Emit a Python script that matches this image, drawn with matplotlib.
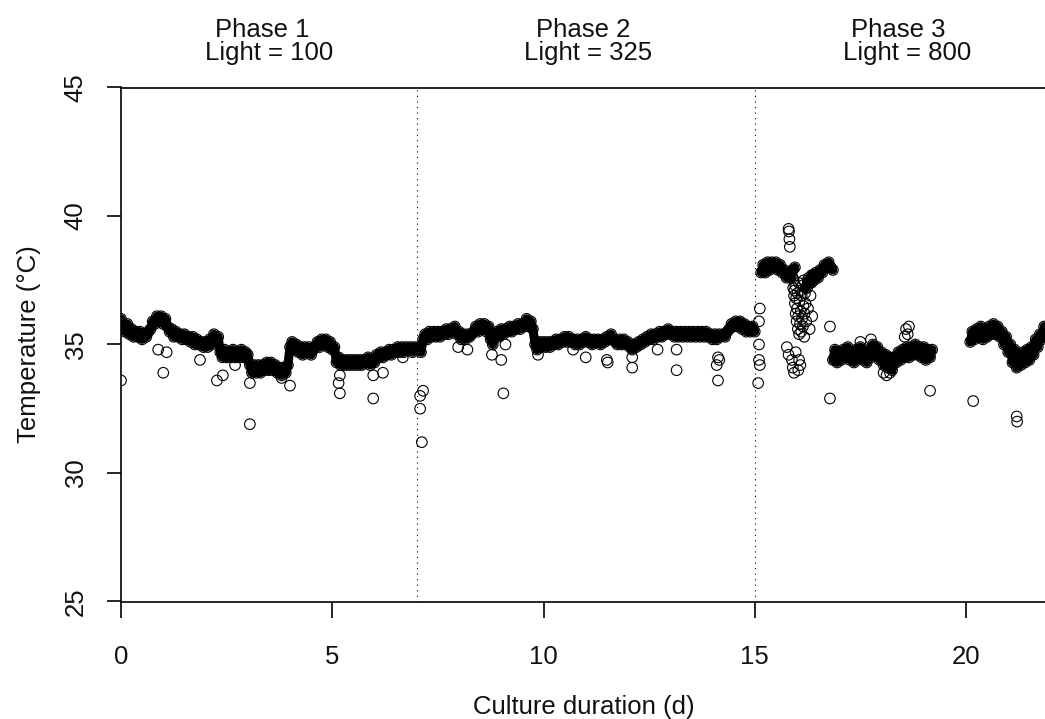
import matplotlib
matplotlib.use("Agg")
import matplotlib.pyplot as plt

# --- data (day, temperature in degC) ----------------------------------------
# continuous logger runs (dense band in the figure)
phase1_day = [
    0.00, 0.05, 0.10, 0.15, 0.20, 0.25, 0.30, 0.35, 0.40, 0.45, 0.50, 0.55, 0.60, 0.65, 0.70, 0.75, 0.80, 0.85, 0.90, 0.95,
    1.00, 1.05, 1.10, 1.15, 1.20, 1.25, 1.30, 1.35, 1.40, 1.45, 1.50, 1.55, 1.60, 1.65, 1.70, 1.75, 1.80, 1.85, 1.90, 1.95,
    2.00, 2.05, 2.10, 2.15, 2.20, 2.25, 2.30, 2.35, 2.40, 2.45, 2.50, 2.55, 2.60, 2.65, 2.70, 2.75, 2.80, 2.85, 2.90, 2.95,
    3.00, 3.05, 3.10, 3.15, 3.20, 3.25, 3.30, 3.35, 3.40, 3.45, 3.50, 3.55, 3.60, 3.65, 3.70, 3.75, 3.80, 3.85, 3.90, 3.95,
    4.00, 4.05, 4.10, 4.15, 4.20, 4.25, 4.30, 4.35, 4.40, 4.45, 4.50, 4.55, 4.60, 4.65, 4.70, 4.75, 4.80, 4.85, 4.90, 4.95,
    5.00, 5.05, 5.10, 5.15, 5.20, 5.25, 5.30, 5.35, 5.40, 5.45, 5.50, 5.55, 5.60, 5.65, 5.70, 5.75, 5.80, 5.85, 5.90, 5.95,
    6.00, 6.05, 6.10, 6.15, 6.20, 6.25, 6.30, 6.35, 6.40, 6.45, 6.50, 6.55, 6.60, 6.65, 6.70, 6.75, 6.80, 6.85, 6.90, 6.95,
    7.00,
]
phase1_temp = [
    36.0, 35.7, 35.5, 35.8, 35.4, 35.6, 35.3, 35.5, 35.3, 35.5, 35.2, 35.4, 35.3, 35.5, 35.6, 35.9, 35.8, 36.1, 35.9, 36.1,
    35.8, 36.0, 35.7, 35.5, 35.6, 35.3, 35.5, 35.3, 35.4, 35.2, 35.4, 35.2, 35.3, 35.1, 35.3, 35.0, 35.2, 35.0, 35.1, 34.9,
    35.1, 34.9, 35.2, 35.0, 35.4, 35.2, 35.3, 34.7, 34.5, 34.8, 34.5, 34.7, 34.5, 34.8, 34.5, 34.7, 34.5, 34.8, 34.5, 34.7,
    34.6, 34.2, 33.9, 34.2, 33.9, 34.2, 33.9, 34.2, 34.0, 34.3, 34.0, 34.3, 34.0, 34.2, 33.9, 34.1, 33.8, 34.1, 33.9, 34.2,
    34.9, 35.1, 34.8, 35.0, 34.7, 34.9, 34.6, 34.9, 34.7, 34.9, 34.6, 34.8, 34.9, 35.1, 34.9, 35.2, 35.0, 35.2, 34.9, 35.1,
    34.8, 34.9, 34.3, 34.5, 34.2, 34.4, 34.2, 34.4, 34.2, 34.4, 34.2, 34.4, 34.2, 34.4, 34.2, 34.4, 34.3, 34.5, 34.2, 34.4,
    34.3, 34.6, 34.5, 34.7, 34.5, 34.7, 34.6, 34.8, 34.6, 34.8, 34.7, 34.9, 34.7, 34.9, 34.7, 34.9, 34.8, 34.9, 34.7, 34.9,
    34.8,
]

phase2_day = [
    7.05, 7.10, 7.15, 7.20, 7.25, 7.30, 7.35, 7.40, 7.45, 7.50, 7.55, 7.60, 7.65, 7.70, 7.75, 7.80, 7.85, 7.90, 7.95, 8.00,
    8.05, 8.10, 8.15, 8.20, 8.25, 8.30, 8.35, 8.40, 8.45, 8.50, 8.55, 8.60, 8.65, 8.70, 8.75, 8.80, 8.85, 8.90, 8.95, 9.00,
    9.05, 9.10, 9.15, 9.20, 9.25, 9.30, 9.35, 9.40, 9.45, 9.50, 9.55, 9.60, 9.65, 9.70, 9.75, 9.80, 9.85, 9.90, 9.95, 10.00,
    10.05, 10.10, 10.15, 10.20, 10.25, 10.30, 10.35, 10.40, 10.45, 10.50, 10.55, 10.60, 10.65, 10.70, 10.75, 10.80, 10.85, 10.90, 10.95, 11.00,
    11.05, 11.10, 11.15, 11.20, 11.25, 11.30, 11.35, 11.40, 11.45, 11.50, 11.55, 11.60, 11.65, 11.70, 11.75, 11.80, 11.85, 11.90, 11.95, 12.00,
    12.05, 12.10, 12.15, 12.20, 12.25, 12.30, 12.35, 12.40, 12.45, 12.50, 12.55, 12.60, 12.65, 12.70, 12.75, 12.80, 12.85, 12.90, 12.95, 13.00,
    13.05, 13.10, 13.15, 13.20, 13.25, 13.30, 13.35, 13.40, 13.45, 13.50, 13.55, 13.60, 13.65, 13.70, 13.75, 13.80, 13.85, 13.90, 13.95, 14.00,
    14.05, 14.10, 14.15, 14.20, 14.25, 14.30, 14.35, 14.40, 14.45, 14.50, 14.55, 14.60, 14.65, 14.70, 14.75, 14.80, 14.85, 14.90, 14.95, 15.00,
]
phase2_temp = [
    34.9, 34.7, 35.2, 35.4, 35.2, 35.5, 35.3, 35.5, 35.3, 35.5, 35.3, 35.5, 35.4, 35.6, 35.4, 35.6, 35.5, 35.7, 35.4, 35.5,
    35.2, 35.4, 35.2, 35.4, 35.3, 35.4, 35.5, 35.7, 35.5, 35.8, 35.6, 35.8, 35.5, 35.7, 35.2, 35.0, 35.3, 35.5, 35.3, 35.6,
    35.4, 35.6, 35.5, 35.7, 35.5, 35.7, 35.6, 35.8, 35.6, 35.8, 35.7, 36.0, 35.7, 35.9, 35.6, 35.0, 34.8, 35.1, 34.9, 35.1,
    34.9, 35.1, 34.9, 35.1, 35.0, 35.2, 35.0, 35.2, 35.1, 35.3, 35.1, 35.3, 35.1, 35.2, 35.0, 35.2, 35.0, 35.2, 35.1, 35.3,
    35.1, 35.2, 35.0, 35.2, 35.1, 35.2, 35.0, 35.2, 35.1, 35.3, 35.2, 35.4, 35.2, 35.1, 35.0, 35.2, 35.0, 35.2, 35.0, 35.1,
    34.9, 34.8, 35.0, 34.9, 35.1, 35.0, 35.2, 35.1, 35.3, 35.2, 35.4, 35.2, 35.4, 35.3, 35.5, 35.3, 35.5, 35.4, 35.6, 35.4,
    35.5, 35.3, 35.5, 35.3, 35.5, 35.3, 35.5, 35.3, 35.5, 35.3, 35.5, 35.3, 35.5, 35.3, 35.5, 35.3, 35.5, 35.3, 35.4, 35.2,
    35.4, 35.2, 35.4, 35.3, 35.4, 35.3, 35.5, 35.6, 35.8, 35.7, 35.9, 35.7, 35.9, 35.6, 35.8, 35.5, 35.7, 35.5, 35.7, 35.5,
]

p3_plateau_day = [15.15, 15.20, 15.25, 15.30, 15.35, 15.40, 15.45, 15.50, 15.55, 15.60,
                  15.65, 15.70, 15.75, 15.80, 15.85, 15.90, 15.95]
p3_plateau_temp = [37.8, 38.1, 37.8, 38.2, 37.9, 38.2, 38.0, 38.2, 37.9, 38.1,
                   37.8, 37.9, 37.6, 37.8, 37.6, 37.9, 38.0]

p3_arm_day = [16.20, 16.25, 16.30, 16.35, 16.40, 16.45, 16.50, 16.55, 16.60,
              16.65, 16.70, 16.75, 16.80, 16.85]
p3_arm_temp = [37.2, 37.5, 37.4, 37.7, 37.5, 37.8, 37.6, 37.9, 37.8,
               38.1, 38.0, 38.2, 38.0, 37.9]

p3_plateau2_day = [
    16.85, 16.90, 16.95, 17.00, 17.05, 17.10, 17.15, 17.20, 17.25, 17.30, 17.35, 17.40, 17.45, 17.50, 17.55, 17.60, 17.65, 17.70, 17.75, 17.80,
    17.85, 17.90, 17.95, 18.00, 18.05, 18.10, 18.15, 18.20, 18.25, 18.30, 18.35, 18.40, 18.45, 18.50, 18.55, 18.60, 18.65, 18.70, 18.75, 18.80,
    18.85, 18.90, 18.95, 19.00, 19.05, 19.10, 19.15, 19.20,
]
p3_plateau2_temp = [
    34.4, 34.8, 34.3, 34.7, 34.4, 34.8, 34.5, 34.9, 34.4, 34.7, 34.3, 34.8, 34.5, 34.9, 34.4, 34.7, 34.3, 34.8, 34.5, 35.0,
    34.6, 34.9, 34.4, 34.7, 34.2, 34.6, 34.1, 34.5, 34.0, 34.5, 34.3, 34.7, 34.4, 34.8, 34.5, 34.9, 34.5, 34.9, 34.6, 35.0,
    34.6, 34.9, 34.5, 34.9, 34.4, 34.8, 34.5, 34.8,
]

p3_last_day = [
    20.10, 20.15, 20.20, 20.25, 20.30, 20.35, 20.40, 20.45, 20.50, 20.55, 20.60, 20.65, 20.70, 20.75, 20.80, 20.85, 20.90, 20.95, 21.00, 21.05,
    21.10, 21.15, 21.20, 21.25, 21.30, 21.35, 21.40, 21.45, 21.50, 21.55, 21.60, 21.65, 21.70, 21.75, 21.80, 21.85,
]
p3_last_temp = [
    35.1, 35.5, 35.2, 35.6, 35.3, 35.7, 35.2, 35.6, 35.3, 35.7, 35.4, 35.8, 35.4, 35.7, 35.3, 35.5, 35.0, 35.3, 34.7, 35.0,
    34.3, 34.8, 34.1, 34.6, 34.2, 34.7, 34.3, 34.8, 34.4, 34.9, 34.6, 35.2, 34.9, 35.4, 35.2, 35.7,
]

# loose readings (phase-3 excursion)
p3_spike_day = [15.80, 15.81, 15.82, 15.83]
p3_spike_temp = [39.5, 39.4, 39.1, 38.8]

p3_cluster_day = [
    15.90, 15.91, 15.92, 15.93, 15.94, 15.95, 15.96, 15.97, 15.98, 15.99,
    16.00, 16.01, 16.02, 16.03, 16.04, 16.05, 16.06, 16.07, 16.08, 16.09,
    16.10, 16.11, 16.12, 16.13, 16.14, 16.15, 16.16, 16.17, 16.18, 16.19,
    16.20, 16.22, 16.24, 16.26, 16.28, 16.30, 16.32, 16.34, 16.36, 16.38,
]
p3_cluster_temp = [
    37.6, 37.2, 37.5, 36.9, 37.1, 36.6, 37.3, 36.2, 36.8, 35.9,
    36.4, 37.0, 35.6, 36.1, 37.4, 35.4, 36.7, 35.8, 37.1, 36.3,
    35.5, 36.9, 36.0, 37.3, 35.7, 36.5, 37.5, 35.3, 36.2, 37.0,
    36.6, 35.9, 37.2, 36.4, 37.6, 35.6, 36.9, 37.4, 36.1, 37.7,
]

p3_low_day = [15.76, 15.80, 15.88, 15.90, 15.93, 15.97, 16.03, 16.05, 16.08]
p3_low_temp = [34.9, 34.6, 34.4, 34.1, 33.9, 34.7, 34.0, 34.4, 34.2]

outlier_day = [
    0.00, 0.88, 1.08, 1.00, 1.87, 2.27, 2.41, 2.70, 3.05, 3.05, 3.80, 4.00, 5.18, 5.15, 5.18, 5.97, 5.97, 6.20, 6.67,
    7.15, 7.08, 7.08, 7.12,
    7.98, 8.20, 8.78, 9.00, 9.05, 9.10, 9.87, 10.70, 11.00, 11.50, 11.52, 12.10, 12.10, 12.70, 13.15, 13.15,
    14.13, 14.10, 14.16, 14.13,
    15.12, 15.10, 15.10, 15.10, 15.12, 15.08,
    16.78, 16.78, 17.50, 17.75, 18.05, 18.12, 18.20, 18.55, 18.58, 18.62, 18.65, 19.15,
    20.17, 21.20, 21.21,
]
outlier_temp = [
    33.6, 34.8, 34.7, 33.9, 34.4, 33.6, 33.8, 34.2, 33.5, 31.9, 33.7, 33.4, 33.8, 33.5, 33.1, 32.9, 33.8, 33.9, 34.5,
    33.2, 33.0, 32.5, 31.2,
    34.9, 34.8, 34.6, 34.4, 33.1, 35.0, 34.6, 34.8, 34.5, 34.4, 34.3, 34.5, 34.1, 34.8, 34.8, 34.0,
    34.5, 34.2, 34.4, 33.6,
    36.4, 35.9, 35.0, 34.4, 34.2, 33.5,
    35.7, 32.9, 35.1, 35.2, 33.9, 33.8, 33.9, 35.3, 35.6, 35.4, 35.7, 33.2,
    32.8, 32.2, 32.0,
]

phase_day_line1 = [3.35, 10.95, 18.4]
phase_day_line2 = [3.5, 11.05, 18.6]
phase_names = ["Phase 1", "Phase 2", "Phase 3"]
phase_light = ["Light = 100", "Light = 325", "Light = 800"]
phase_breaks = [7, 15]

x_ticks = [0, 5, 10, 15, 20]
y_ticks = [25, 30, 35, 40, 45]

# --- figure --------------------------------------------------------------
plt.rcParams["font.family"] = ["Liberation Sans", "DejaVu Sans"]
FS = 18.5
INK = "#111111"

W, H = 1045, 719
fig = plt.figure(figsize=(W / 100, H / 100), dpi=100)
ax = fig.add_axes([121 / W, (H - 601.5) / H, 1 - 121 / W, 514 / H])

runs = [(phase1_day, phase1_temp), (phase2_day, phase2_temp),
        (p3_plateau_day, p3_plateau_temp), (p3_arm_day, p3_arm_temp),
        (p3_plateau2_day, p3_plateau2_temp), (p3_last_day, p3_last_temp)]
loose = [(p3_spike_day, p3_spike_temp), (p3_cluster_day, p3_cluster_temp),
         (p3_low_day, p3_low_temp), (outlier_day, outlier_temp)]

# the logger runs are so dense that the open circles merge into a solid band
for day, temp in runs:
    ax.plot(day, temp, color="black", lw=6.5, solid_joinstyle="round",
            solid_capstyle="round", zorder=2)
for day, temp in runs + loose:
    ax.scatter(day, temp, s=58, facecolors="none", edgecolors="black",
               linewidths=0.8, zorder=3)

for b in phase_breaks:
    ax.axvline(b, color="black", lw=0.8, ls=(0, (1, 4)), zorder=1)

ax.set_xlim(0, 924 / 42.25)
ax.set_ylim(25, 45)
ax.spines["right"].set_visible(False)
for s in ["left", "bottom", "top"]:
    ax.spines[s].set_linewidth(1.2)

ax.set_xticks(x_ticks)
ax.set_yticks(y_ticks)
ax.tick_params(axis="x", length=11.5, width=1.2, pad=20, labelsize=FS, labelcolor=INK)
ax.tick_params(axis="y", length=10, width=1.2, pad=14, labelsize=FS, labelcolor=INK)
plt.setp(ax.get_yticklabels(), rotation=90, va="center")

tr = ax.get_xaxis_transform()
for x1, x2, name, light in zip(phase_day_line1, phase_day_line2, phase_names, phase_light):
    ax.text(x1, 1.098, name, transform=tr, ha="center", va="baseline",
            fontsize=FS, color=INK)
    ax.text(x2, 1.0535, light, transform=tr, ha="center", va="baseline",
            fontsize=FS, color=INK)

fig.text(584 / W, 5 / H, "Culture duration (d)", ha="center", va="baseline",
         fontsize=FS, color=INK)
fig.text(29 / W, 1 - 344 / H, "Temperature (°C)", ha="center", va="center",
         rotation=90, fontsize=FS, color=INK)

fig.savefig("out.png", dpi=100)
